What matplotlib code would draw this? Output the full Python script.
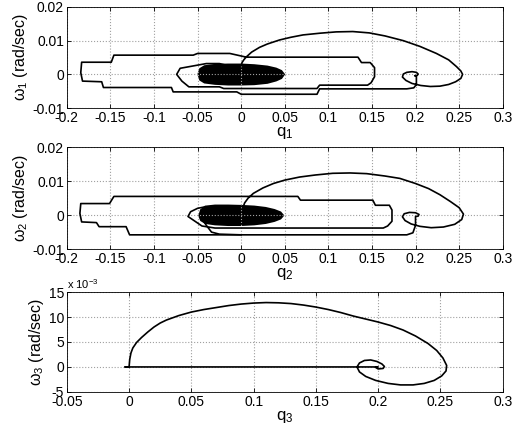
import matplotlib.pyplot as plt
import numpy as np
from matplotlib.ticker import FuncFormatter

plt.rcParams['font.family'] = ['Liberation Sans', 'DejaVu Sans']
plt.rcParams['mathtext.fontset'] = 'custom'
plt.rcParams['mathtext.rm'] = 'Liberation Sans'
plt.rcParams['mathtext.it'] = 'Liberation Sans'

# phase portrait of joint 1 (q in rad, w in 1e-3 rad/sec)
q1 = [0.0, 0.001, 0.003, 0.006, 0.012, 0.021, 0.03, 0.044, 0.057, 0.071, 0.09, 0.109, 0.128, 0.147,
      0.165, 0.186, 0.205, 0.224, 0.238, 0.247, 0.252, 0.254, 0.252, 0.246, 0.238, 0.228, 0.217,
      0.206, 0.196, 0.189, 0.185, 0.186, 0.19, 0.196, 0.201, 0.203, 0.202, 0.199, 0.201,
      0.201, 0.198, 0.19, 0.09, 0.087, 0.0, -0.005, -0.078, -0.08, -0.158, -0.16, -0.182, -0.184,
      -0.183, -0.149, -0.146, -0.055, -0.05, -0.013, 0.006, 0.134, 0.138, 0.148, 0.153, 0.153, 0.149,
      0.145, 0.09, 0.087, -0.02, -0.025, -0.06, -0.068, -0.074, -0.07, -0.055, -0.04, -0.025, -0.015]
w1 = [2.6, 3.5, 4.3, 5.2, 6.6, 8.0, 9.0, 10.2, 11.0, 11.7, 12.2, 12.6, 12.7, 12.3,
      11.4, 10.0, 8.3, 6.2, 4.3, 2.3, 1.0, 0.0, -1.2, -2.2, -3.0, -3.5, -3.6,
      -3.3, -2.7, -1.8, -0.8, 0.1, 0.6, 0.8, 0.6, 0.1, -0.3, -0.4, -0.6,
      -3.0, -4.0, -4.3, -4.3, -5.9, -5.9, -5.2, -5.2, -3.9, -3.9, -2.2, -2.0, 0.5,
      3.6, 3.6, 5.7, 5.7, 6.2, 6.2, 5.1, 5.1, 3.5, 3.5, 2.0, -0.7, -2.5,
      -3.2, -3.2, -4.2, -4.2, -3.7, -3.7, -2.0, 0.0, 1.8, 2.5, 3.2, 3.2, 2.6]
# dense oscillation around the origin, drawn as a solid region
blob1_q = [-0.049, -0.047, -0.042, -0.03, -0.015, 0.0, 0.015, 0.03, 0.04, 0.046, 0.049,
           0.046, 0.04, 0.03, 0.015, 0.0, -0.015, -0.03, -0.042, -0.047]
blob1_w = [0.0, 1.6, 2.4, 2.8, 2.9, 2.9, 2.7, 2.3, 1.7, 1.0, 0.0,
           -1.1, -1.8, -2.5, -2.9, -3.0, -3.0, -2.8, -2.4, -1.6]

# joint 2
q2 = [0.002, 0.004, 0.008, 0.014, 0.025, 0.037, 0.05, 0.067, 0.085, 0.105, 0.125, 0.144, 0.165,
      0.182, 0.2, 0.215, 0.228, 0.24, 0.25, 0.255, 0.253, 0.245, 0.232, 0.218, 0.205, 0.195,
      0.188, 0.185, 0.187, 0.193, 0.2, 0.204, 0.203, 0.2,
      0.2, 0.197, 0.19, -0.128, -0.132, -0.163, -0.166, -0.183, -0.185, -0.184, -0.151, -0.146,
      0.065, 0.068, 0.151, 0.154, 0.17, 0.173, 0.173, 0.168, 0.163, -0.03, -0.045, -0.061, -0.058,
      -0.05, -0.042]
w2 = [2.2, 3.6, 5.0, 6.4, 8.0, 9.3, 10.3, 11.2, 11.8, 12.3, 12.4, 12.2, 11.5,
      10.8, 9.3, 7.8, 6.0, 4.0, 2.2, 0.3, -1.3, -2.7, -3.5, -3.7, -3.3, -2.6,
      -1.6, -0.5, 0.4, 0.8, 0.7, 0.2, -0.3, -0.4,
      -3.0, -5.2, -5.8, -5.8, -3.4, -3.4, -2.2, -2.0, 0.5, 3.4, 3.4, 5.5,
      5.5, 4.4, 4.4, 2.9, 2.9, 1.5, -1.8, -3.2, -3.8, -3.8, -3.2, -0.4, 1.0,
      2.0, 2.4]
q2b = [-0.045, -0.04, -0.034, -0.025, 0.0]
w2b = [-1.0, -3.0, -5.0, -5.6, -5.8]
blob2_q = [-0.048, -0.046, -0.041, -0.03, -0.015, 0.0, 0.015, 0.028, 0.038, 0.045, 0.048,
           0.045, 0.038, 0.028, 0.015, 0.0, -0.015, -0.03, -0.041, -0.046]
blob2_w = [-0.2, 1.5, 2.5, 2.8, 2.8, 2.7, 2.5, 2.1, 1.5, 0.8, -0.1,
           -1.0, -1.7, -2.3, -2.7, -2.9, -2.9, -2.7, -2.3, -1.5]

# joint 3 (w in 1e-3 rad/sec)
q3 = [-0.003, 0.0, 0.0005, 0.0015, 0.003, 0.006, 0.01, 0.015, 0.02, 0.025, 0.03, 0.04, 0.05,
      0.06, 0.07, 0.08, 0.09, 0.1, 0.11, 0.12, 0.13, 0.14, 0.15, 0.16, 0.17, 0.18, 0.19, 0.2,
      0.21, 0.22, 0.23, 0.24, 0.247, 0.252, 0.255, 0.2545, 0.251, 0.245, 0.237, 0.228, 0.218,
      0.208, 0.198, 0.19, 0.185, 0.183, 0.185, 0.189, 0.194, 0.199, 0.203, 0.205, 0.204, 0.2,
      0.198, 0.2, 0.0, -0.003]
w3 = [0.0, 0.0, 1.5, 2.8, 3.8, 4.9, 5.9, 7.0, 8.0, 8.8, 9.4, 10.3, 11.0,
      11.5, 11.9, 12.3, 12.6, 12.8, 12.9, 12.85, 12.7, 12.4, 12.0, 11.5, 10.9, 10.2, 9.6, 9.0,
      8.3, 7.4, 6.2, 4.7, 3.3, 1.8, 0.3, -0.8, -1.8, -2.7, -3.3, -3.6, -3.6,
      -3.3, -2.7, -1.9, -1.0, 0.0, 0.8, 1.3, 1.4, 1.1, 0.6, 0.1, -0.3, -0.4,
      -0.1, 0.0, 0.0, 0.0]

xticks12 = [-0.2, -0.15, -0.1, -0.05, 0, 0.05, 0.1, 0.15, 0.2, 0.25, 0.3]
yticks12 = [-0.01, 0, 0.01, 0.02]
xticks3 = [-0.05, 0, 0.05, 0.1, 0.15, 0.2, 0.25, 0.3]
yticks3 = [-5, 0, 5, 10, 15]

fmt = FuncFormatter(lambda v, p: '%g' % round(v, 6))


def style(ax):
    ax.grid(True, linestyle=':', color='#a0a0a0', linewidth=0.8)
    ax.tick_params(direction='in', length=3, width=0.6, labelsize=10, top=True, right=True,
                   pad=2)
    for s in ax.spines.values():
        s.set_linewidth(0.6)
    ax.xaxis.set_major_formatter(fmt)
    ax.yaxis.set_major_formatter(fmt)


fig = plt.figure(figsize=(5.14, 4.34), dpi=100)
ax1 = fig.add_axes([0.130, 0.751, 0.848, 0.233])
ax2 = fig.add_axes([0.130, 0.426, 0.848, 0.235])
ax3 = fig.add_axes([0.130, 0.097, 0.848, 0.230])

lw = 1.2
ax1.plot(q1, np.array(w1) * 1e-3, color='k', lw=lw)
ax1.fill(blob1_q, np.array(blob1_w) * 1e-3, color='k', lw=1.5)
ax2.plot(q2, np.array(w2) * 1e-3, color='k', lw=lw)
ax2.plot(q2b, np.array(w2b) * 1e-3, color='k', lw=lw)
ax2.fill(blob2_q, np.array(blob2_w) * 1e-3, color='k', lw=1.5)
ax3.plot(q3, w3, color='k', lw=lw)

for ax, n in [(ax1, 1), (ax2, 2)]:
    ax.set_xlim(-0.2, 0.3)
    ax.set_ylim(-0.01, 0.02)
    ax.set_xticks(xticks12)
    ax.set_yticks(yticks12)
    style(ax)
    ax.set_xlabel('q$_%d$' % n, fontsize=12, labelpad=0)
    ax.set_ylabel('ω$_%d$ (rad/sec)' % n, fontsize=11.5, labelpad=2)

ax3.set_xlim(-0.05, 0.3)
ax3.set_ylim(-5, 15)
ax3.set_xticks(xticks3)
ax3.set_yticks(yticks3)
style(ax3)
ax3.set_xlabel('q$_3$', fontsize=12, labelpad=0)
ax3.set_ylabel('ω$_3$ (rad/sec)', fontsize=11.5, labelpad=2)
ax3.text(0.0, 1.01, 'x 10$^{-3}$', transform=ax3.transAxes, fontsize=8, ha='left', va='bottom')

fig.savefig('out.png', dpi=100)
